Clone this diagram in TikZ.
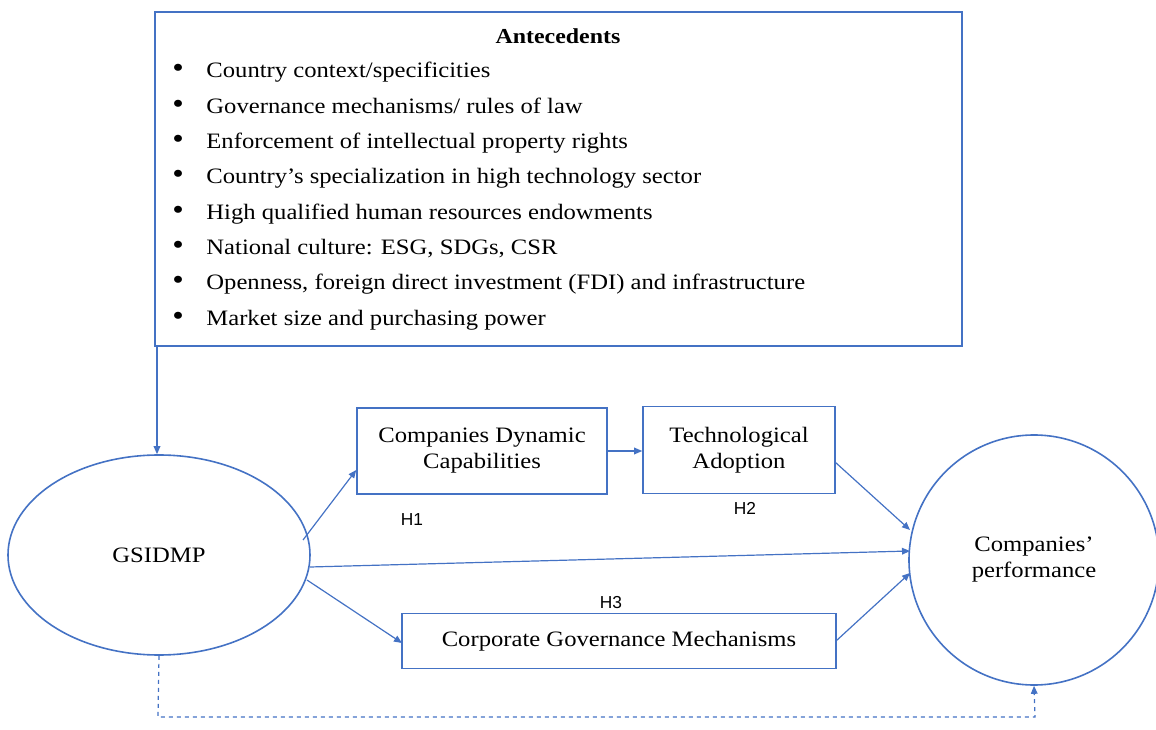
\documentclass[tikz,border=0pt]{standalone}
\usepackage{fontspec}
\setmainfont{Liberation Serif}[FakeStretch=1.12]
\newfontfamily\hsans{Liberation Sans}
\usetikzlibrary{arrows.meta,shapes.geometric}
\definecolor{ob}{HTML}{4472C4}
\begin{document}
\begin{tikzpicture}[x=0.75pt,y=-0.75pt,
  bx/.style={draw=ob,line width=1.2pt},
  ar/.style={draw=ob,line width=0.9pt,-{Triangle[length=6pt,width=5pt]}},
  tx/.style={font=\fontsize{16.5}{19.5}\selectfont,align=center},
  hl/.style={font=\hsans\fontsize{13}{15}\selectfont}]
\useasboundingbox (0,0) rectangle (1156,730);
\node[bx,minimum width=807*0.75pt,minimum height=334*0.75pt] (ant) at (558.5,179) {};
\node[tx,font=\bfseries\fontsize{16}{19}\selectfont] (antt) at (558,36) {Antecedents};
\foreach \t [count=\i] in {Country context/specificities,Governance mechanisms/ rules of law,Enforcement of intellectual property rights,Country’s specialization in high technology sector,High qualified human resources endowments,{National culture: ESG, SDGs, CSR},{Openness, foreign direct investment (FDI) and infrastructure},Market size and purchasing power}{
  \node[tx,anchor=base west,inner sep=0pt] (b\i) at (172,{78+(\i-1)*35.3}) {{\fontsize{22}{22}\selectfont\textbullet}\hspace{17pt}\t};
}
\node[ellipse,bx,minimum width=302*0.75pt,minimum height=200*0.75pt,tx] (g) at (159,555) {GSIDMP};
\node[bx,tx,minimum width=250*0.75pt,minimum height=86*0.75pt] (cdc) at (482,451) {Companies Dynamic\\Capabilities};
\node[bx,tx,minimum width=192*0.75pt,minimum height=87*0.75pt] (ta) at (739,450) {Technological\\Adoption};
\node[bx,tx,minimum width=434*0.75pt,minimum height=55*0.75pt] (cgm) at (619,641) {Corporate Governance Mechanisms};
\node[circle,bx,tx,minimum size=250*0.75pt] (cp) at (1034,560) {Companies’\\performance};
\node[hl] (h1) at (412,520) {H1};
\node[hl] (h2) at (745,508) {H2};
\node[hl] (h3) at (611,603) {H3};
\coordinate (a0) at (157,346);
\draw[ar] (a0) -- (g.north -| a0);
\draw[ar] (303,540) -- (cdc.south west |- 0,470);
\draw[ar] (cdc.east) -- (ta.west |- cdc.east);
\draw[ar] (835,462) -- (910,530);
\draw[ar] (310,567) -- (910,551);
\draw[ar] (307,580) -- (402,643);
\draw[ar] (836,641) -- (910,573);
\coordinate (d1) at (158,717);
\coordinate (d2) at (1035,717);
\draw[ar,dashed] (g.south) -- (d1) -- (d2) -- (cp.south);
\end{tikzpicture}
\end{document}
